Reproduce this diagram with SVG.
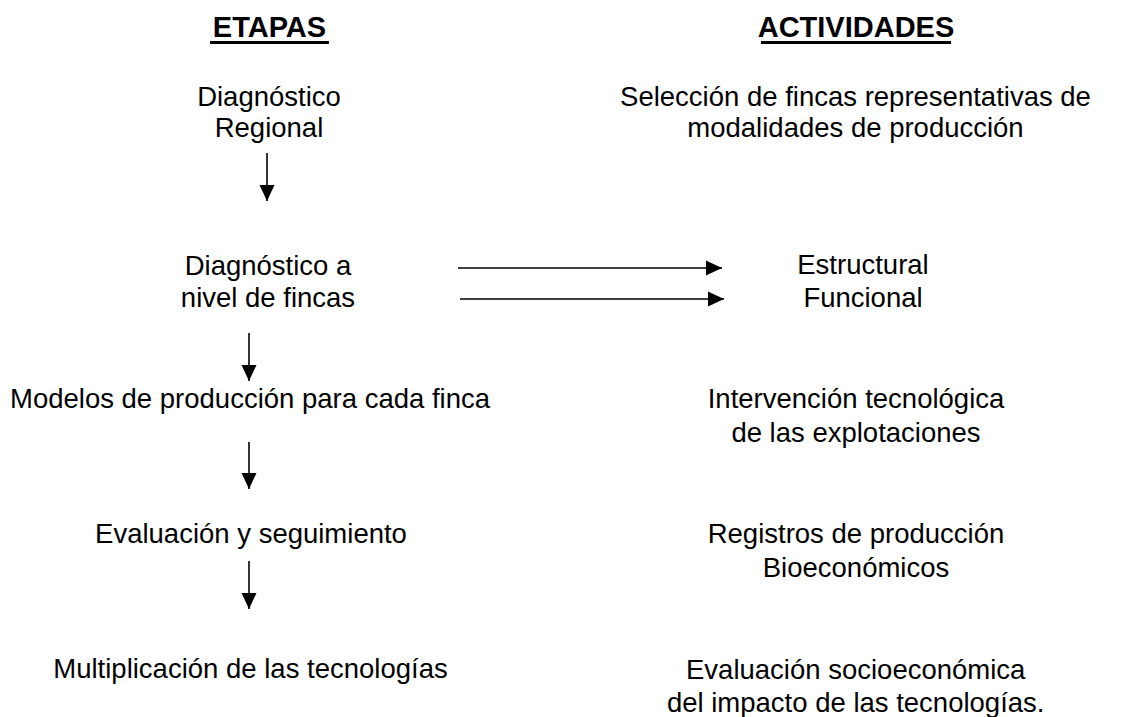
<svg xmlns="http://www.w3.org/2000/svg" width="1124" height="717" viewBox="0 0 1124 717">
<style>
text{font-family:"Liberation Sans",Arial,sans-serif;font-size:27.5px;fill:#000;text-anchor:middle}
.h{font-weight:bold;font-size:29px}
.c{stroke:#000;stroke-width:1.6;fill:none}
</style>
<defs>
<marker id="ah" markerUnits="userSpaceOnUse" markerWidth="16" markerHeight="16" viewBox="0 0 16 16" refX="16" refY="8" orient="auto">
<path d="M0,0.5 L16,8 L0,15.5 Z" fill="#000"/>
</marker>
</defs>
<rect width="1124" height="717" fill="#fff"/>
<g id="header-etapas">
<text class="h" x="269.5" y="37">ETAPAS</text>
<rect x="210" y="41" width="119" height="3" fill="#000"/>
</g>
<g id="header-actividades">
<text class="h" x="856" y="37">ACTIVIDADES</text>
<rect x="761" y="41" width="190" height="3" fill="#000"/>
</g>
<g id="etapa-diagnostico-regional">
<text x="269" y="106">Diagnóstico</text>
<text x="269" y="137">Regional</text>
</g>
<g id="act-seleccion">
<text x="855.5" y="106">Selección de fincas representativas de</text>
<text x="855.5" y="137">modalidades de producción</text>
</g>
<g id="etapa-diagnostico-fincas">
<text x="268" y="275">Diagnóstico a</text>
<text x="268" y="307">nivel de fincas</text>
</g>
<g id="act-estructural">
<text x="863" y="274">Estructural</text>
</g>
<g id="act-funcional">
<text x="863" y="307">Funcional</text>
</g>
<g id="etapa-modelos">
<text x="250" y="408">Modelos de producción para cada finca</text>
</g>
<g id="act-intervencion">
<text x="856" y="408">Intervención tecnológica</text>
<text x="856" y="442">de las explotaciones</text>
</g>
<g id="etapa-evaluacion">
<text x="251" y="543">Evaluación y seguimiento</text>
</g>
<g id="act-registros">
<text x="856" y="543">Registros de producción</text>
<text x="856" y="577">Bioeconómicos</text>
</g>
<g id="etapa-multiplicacion">
<text x="250.5" y="678">Multiplicación de las tecnologías</text>
</g>
<g id="act-evaluacion-socio">
<text x="855.7" y="679">Evaluación socioeconómica</text>
<text x="855.7" y="712">del impacto de las tecnologías.</text>
</g>
<g id="connectors">
<line class="c" x1="267" y1="153" x2="267" y2="201" marker-end="url(#ah)"/>
<line class="c" x1="458" y1="268" x2="722" y2="268" marker-end="url(#ah)"/>
<line class="c" x1="460" y1="299" x2="724" y2="299" marker-end="url(#ah)"/>
<line class="c" x1="249" y1="333" x2="249" y2="381" marker-end="url(#ah)"/>
<line class="c" x1="249" y1="442" x2="249" y2="489" marker-end="url(#ah)"/>
<line class="c" x1="249" y1="561" x2="249" y2="609" marker-end="url(#ah)"/>
</g>
</svg>
